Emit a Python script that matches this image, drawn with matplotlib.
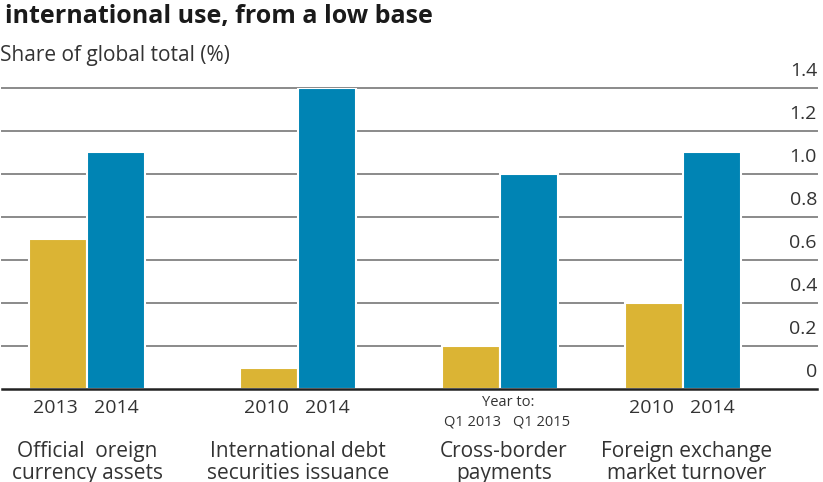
import matplotlib
matplotlib.use("Agg")
import matplotlib.pyplot as plt
from matplotlib.transforms import blended_transform_factory

plt.rcParams['font.family'] = ['Open Sans', 'DejaVu Sans']

# ---- data ----
categories = ["Official  oreign\ncurrency assets", "International debt\nsecurities issuance",
              "Cross-border\npayments", "Foreign exchange\nmarket turnover"]
period_a = ["2013", "2010", "Q1 2013", "2010"]
period_b = ["2014", "2014", "Q1 2015", "2014"]
values_a = [0.7, 0.1, 0.2, 0.4]
values_b = [1.1, 1.4, 1.0, 1.1]
yticks = [0, 0.2, 0.4, 0.6, 0.8, 1.0, 1.2, 1.4]
ytick_labels = ["0", "0.2", "0.4", "0.6", "0.8", "1.0", "1.2", "1.4"]

# ---- layout ----
W, H = 823, 482
group_x = [85, 296, 498, 681]
bar_w = 58
gold = "#dbb434"
blue = "#0084b4"
text_c = "#333333"

fig = plt.figure(figsize=(W / 100, H / 100), dpi=100)
ax_left, ax_right = 2, 817
y0_px, ytop_px = 389, 88
ax = fig.add_axes([ax_left / W, (H - y0_px) / H, (ax_right - ax_left) / W, (y0_px - ytop_px) / H])
ax.set_xlim(0, ax_right - ax_left)
ax.set_ylim(0, 1.4)
ax.axis('off')

for t in yticks[1:]:
    ax.axhline(t, color="#8a8a8a", lw=1.4, zorder=1, clip_on=False)
ax.axhline(0, color="#222222", lw=1.8, zorder=4, clip_on=False)

xa = [g - bar_w / 2 for g in group_x]
xb = [g + bar_w / 2 for g in group_x]
ax.bar(xa, values_a, width=bar_w, color=gold, edgecolor="white", lw=1.5, zorder=2)
ax.bar(xb, values_b, width=bar_w, color=blue, edgecolor="white", lw=1.5, zorder=2)

# y tick labels (right, above gridlines)
for t, lab in zip(yticks, ytick_labels):
    ax.text(ax_right - ax_left, t + 0.035, lab, ha='right', va='bottom', fontsize=14, color=text_c)

def fy(py):
    return (H - py) / H

tr = blended_transform_factory(ax.transData, fig.transFigure)
for i in range(4):
    if i == 2:
        ax.text(group_x[i] + 8, fy(403), "Year to:", transform=tr, ha='center', va='center',
                fontsize=10.5, color=text_c)
        ax.text(xa[i] + 1, fy(422), period_a[i], transform=tr, ha='center', va='center',
                fontsize=10.5, color=text_c)
        ax.text(xb[i] + 13, fy(422), period_b[i], transform=tr, ha='center', va='center',
                fontsize=10.5, color=text_c)
    else:
        ax.text(xa[i] - 3, fy(408), period_a[i], transform=tr, ha='center', va='center',
                fontsize=14, color=text_c)
        ax.text(xb[i], fy(408), period_b[i], transform=tr, ha='center', va='center',
                fontsize=14, color=text_c)
    line1, line2 = categories[i].split("\n")
    cx = group_x[i] + (4 if i >= 2 else 0)
    ax.text(cx, fy(457), line1, transform=tr, ha='center', va='baseline',
            fontsize=15, color=text_c)
    ax.text(cx, fy(479), line2, transform=tr, ha='center', va='baseline',
            fontsize=15, color=text_c)

fig.text(5 / W, fy(17), "international use, from a low base", ha='left', va='center',
         fontsize=18, fontweight='bold', color="#1a1a1a")
fig.text(0, fy(55), "Share of global total (%)", ha='left', va='center',
         fontsize=15, color=text_c)

fig.savefig("out.png", dpi=100)
